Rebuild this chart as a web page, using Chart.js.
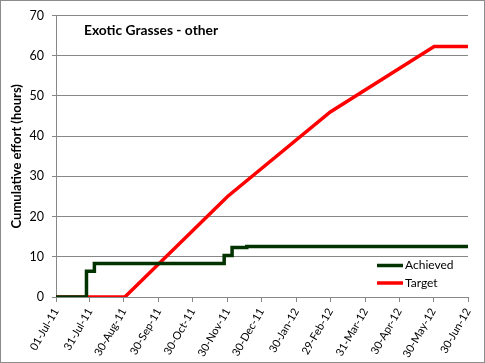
<!DOCTYPE html>
<html>
<head>
<meta charset="utf-8">
<script src="https://cdn.jsdelivr.net/npm/chart.js@4.4.1/dist/chart.umd.min.js"></script>
<style>
  html, body { margin: 0; padding: 0; background: #fff; }
  canvas { display: block; }
</style>
</head>
<body>
<canvas id="c" width="485" height="363"></canvas>
<script>
// ---- data ----
const startDate = '2011-07-01';
const tickDates = ['2011-07-01','2011-07-31','2011-08-30','2011-09-30','2011-10-30','2011-11-30','2011-12-30','2012-01-30','2012-02-29','2012-03-31','2012-04-30','2012-05-30','2012-06-30'];
const tickLabels = ['01-Jul-11','31-Jul-11','30-Aug-11','30-Sep-11','30-Oct-11','30-Nov-11','30-Dec-11','30-Jan-12','29-Feb-12','31-Mar-12','30-Apr-12','30-May-12','30-Jun-12'];

const achievedDates  = ['2011-07-01','2011-07-28','2011-08-04','2011-11-27','2011-12-04','2011-12-17','2012-06-29','2012-06-30'];
const achievedValues = [0, 6.4, 8.3, 10.3, 12.3, 12.55, 12.55, 12.9];

const targetDates  = ['2011-07-01','2011-08-31','2011-11-30','2012-02-29','2012-05-31','2012-06-30'];
const targetValues = [0, 0, 25, 46, 62.3, 62.3];

const yMin = 0, yMax = 70, yStep = 10;

// ---- helpers ----
function dayOf(s) {
  const [y, m, d] = s.split('-').map(Number);
  const [y0, m0, d0] = startDate.split('-').map(Number);
  return (Date.UTC(y, m - 1, d) - Date.UTC(y0, m0 - 1, d0)) / 86400000;
}
const tickDays = tickDates.map(dayOf);
const FONT = 'Lato, "Open Sans", sans-serif';
const GRID = '#878787';

const chromePlugin = {
  id: 'chrome',
  beforeDraw(chart) {
    const c = chart.ctx;
    c.save();
    c.fillStyle = '#ffffff';
    c.fillRect(0, 0, chart.width, chart.height);
    c.restore();
  },
  afterDraw(chart) {
    const c = chart.ctx, a = chart.chartArea;
    c.save();
    // outer border
    c.strokeStyle = '#8c8c8c';
    c.lineWidth = 1;
    c.strokeRect(0.5, 0.5, chart.width - 1, chart.height - 1);
    // title
    c.fillStyle = '#000';
    c.font = 'bold 13.8px ' + FONT;
    c.textAlign = 'left';
    c.textBaseline = 'middle';
    c.fillText('Exotic Grasses - other', a.left + 28, a.top + 15);
    // legend
    c.font = '12px ' + FONT;
    chart.data.datasets.forEach((ds, i) => {
      const y = a.bottom - 31.5 + i * 17.5;
      c.strokeStyle = ds.borderColor;
      c.lineWidth = 3.5;
      c.beginPath();
      c.moveTo(a.right - 91, y);
      c.lineTo(a.right - 65, y);
      c.stroke();
      c.fillStyle = '#000';
      c.fillText(ds.label, a.right - 63, y);
    });
    c.restore();
  }
};

new Chart(document.getElementById('c'), {
  type: 'line',
  data: {
    datasets: [
      {
        label: 'Achieved',
        data: achievedDates.map((d, i) => ({ x: dayOf(d), y: achievedValues[i] })),
        borderColor: '#003300',
        borderWidth: 3.5,
        stepped: 'before',
        pointRadius: 0,
        fill: false
      },
      {
        label: 'Target',
        data: targetDates.map((d, i) => ({ x: dayOf(d), y: targetValues[i] })),
        borderColor: '#ff0000',
        borderWidth: 3.5,
        tension: 0,
        pointRadius: 0,
        fill: false
      }
    ]
  },
  options: {
    responsive: false,
    animation: false,
    layout: { padding: { left: 0, top: 11, right: 17, bottom: 0 } },
    plugins: {
      legend: { display: false },
      title: { display: false },
      tooltip: { enabled: false }
    },
    scales: {
      x: {
        type: 'linear',
        min: tickDays[0],
        max: tickDays[tickDays.length - 1],
        afterBuildTicks: s => { s.ticks = tickDays.map(v => ({ value: v })); },
        afterFit: s => { s.height = 66; },
        ticks: {
          autoSkip: false,
          minRotation: 60,
          maxRotation: 60,
          padding: 4,
          color: '#000',
          font: { family: FONT, size: 11 },
          callback: (v, i) => tickLabels[i]
        },
        grid: { drawOnChartArea: false, drawTicks: true, tickLength: 5, color: GRID },
        border: { display: true, color: GRID }
      },
      y: {
        min: yMin,
        max: yMax,
        afterFit: s => { s.width = 56; },
        ticks: {
          stepSize: yStep,
          padding: 8,
          color: '#000',
          font: { family: FONT, size: 12.5 }
        },
        grid: { color: GRID, tickLength: 4 },
        border: { display: true, color: GRID },
        title: {
          display: true,
          text: 'Cumulative effort (hours)',
          color: '#000',
          font: { family: FONT, size: 13, weight: 'bold' },
          padding: { top: 9, bottom: 0 }
        }
      }
    }
  },
  plugins: [chromePlugin]
});
</script>
</body>
</html>
